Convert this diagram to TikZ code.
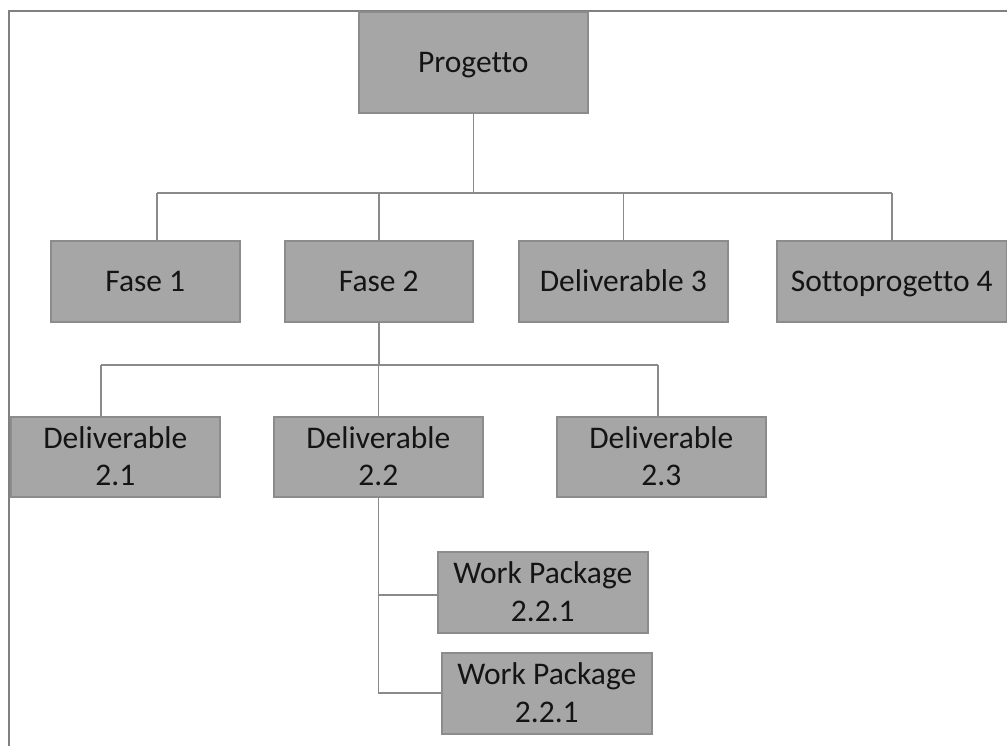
\documentclass[tikz,border=0pt]{standalone}
\usepackage{fontspec}
\setmainfont{Carlito}[Ligatures=NoCommon]
\begin{document}
\begin{tikzpicture}[x=1pt,y=-1pt,
  box/.style={draw=boxedge, fill=boxfill, line width=1.6pt, anchor=north west,
    inner sep=0pt, align=center, text=black!92,
    font=\fontsize{31.5}{37.6}\selectfont, text height=20.4pt, text depth=0pt},
  twoline/.style={text height=58pt},
  link/.style={draw=linkgray, line width=1.6pt},
  frame/.style={draw=framegray, line width=2.2pt}]
\definecolor{boxfill}{HTML}{A6A6A6}
\definecolor{boxedge}{HTML}{8C8C8C}
\definecolor{linkgray}{HTML}{8A8A8A}
\definecolor{framegray}{HTML}{808080}
\useasboundingbox (0,0) rectangle (1007,745);

% page frame
\coordinate (fa) at (9,746);
\coordinate (fb) at (9,11);
\coordinate (fc) at (1008,11);
\draw[frame] (fa) -- (fb) -- (fc);

% bus levels
\coordinate (bus1) at (0,193);
\coordinate (bus2) at (0,365);
\coordinate (wpa) at (0,595);
\coordinate (wpb) at (0,693);

% level 0
\node[box, minimum width=229, minimum height=101] (p) at (358,11) {Progetto};

% level 1
\node[box, minimum width=189, minimum height=81] (f1) at (50,240) {Fase 1};
\node[box, minimum width=188, minimum height=81] (f2) at (284,240) {Fase 2};
\node[box, minimum width=209, minimum height=81] (d3) at (518,240) {Deliverable 3};
\node[box, minimum width=230, minimum height=81] (s4) at (776,240) {Sottoprogetto 4};

% level 2
\node[box, twoline, minimum width=209, minimum height=80] (d21) at (10,416) {Deliverable\\2.1};
\node[box, twoline, minimum width=209, minimum height=80] (d22) at (273,416) {Deliverable\\2.2};
\node[box, twoline, minimum width=209, minimum height=80] (d23) at (556,416) {Deliverable\\2.3};

% level 3
\node[box, twoline, minimum width=210, minimum height=81] (w1) at (437,551) {Work Package\\2.2.1};
\node[box, twoline, minimum width=210, minimum height=81] (w2) at (441,652) {Work Package\\2.2.1};

% Progetto -> phases
\draw[link] (p.south) -- (p.south |- bus1);
\draw[link] ([xshift=11.5]f1.north |- bus1) -- (s4.north |- bus1);
\draw[link] ([xshift=11.5]f1.north |- bus1) -- ([xshift=11.5]f1.north);
\draw[link] (f2.north |- bus1) -- (f2.north);
\draw[link] (d3.north |- bus1) -- (d3.north);
\draw[link] (s4.north |- bus1) -- (s4.north);

% Fase 2 -> deliverables
\draw[link] (f2.south) -- (f2.south |- bus2);
\draw[link] ([xshift=-14.5]d21.north |- bus2) -- ([xshift=-3.5]d23.north |- bus2);
\draw[link] ([xshift=-14.5]d21.north |- bus2) -- ([xshift=-14.5]d21.north);
\draw[link] (d22.north |- bus2) -- (d22.north);
\draw[link] ([xshift=-3.5]d23.north |- bus2) -- ([xshift=-3.5]d23.north);

% Deliverable 2.2 -> work packages
\draw[link] (d22.south) -- (d22.south |- wpb);
\draw[link] (d22.south |- wpa) -- (w1.west |- wpa);
\draw[link] (d22.south |- wpb) -- (w2.west |- wpb);
\end{tikzpicture}
\end{document}
